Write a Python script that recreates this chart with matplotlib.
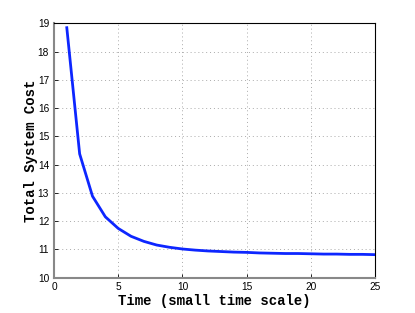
import matplotlib
matplotlib.use("Agg")
import matplotlib.pyplot as plt

time = list(range(1, 26))
cost = [18.85, 14.38, 12.88, 12.15, 11.74, 11.46, 11.28, 11.15, 11.07, 11.01,
        10.97, 10.94, 10.92, 10.90, 10.89, 10.87, 10.86, 10.85, 10.85, 10.84,
        10.83, 10.83, 10.82, 10.82, 10.81]
xticks = [0, 5, 10, 15, 20, 25]
yticks = list(range(10, 20))

fig = plt.figure(figsize=(4.15, 3.13), dpi=100)
ax = fig.add_axes([0.130, 0.1134, 0.774, 0.8116])
ax.plot(time, cost, color=(0.05, 0.15, 1.0), lw=2)
ax.set_xlim(0, 25)
ax.set_ylim(10, 19)
ax.set_xticks(xticks)
ax.set_yticks(yticks)
ax.tick_params(direction='in', labelsize=7.3, length=3, width=0.6, top=False, right=False)
for t in ax.get_xticklabels() + ax.get_yticklabels():
    t.set_family('Liberation Sans')
ax.grid(True, linestyle=(0, (1, 3)), color='#aaaaaa', lw=0.7)
for s in ['left', 'bottom']:
    ax.spines[s].set_color('#888888')
    ax.spines[s].set_linewidth(1.5)
for s in ['top', 'right']:
    ax.spines[s].set_color('black')
    ax.spines[s].set_linewidth(0.8)
ax.set_xlabel('Time (small time scale)', family='Liberation Mono', weight='bold', fontsize=10.1, labelpad=1)
ax.set_ylabel('Total System Cost', family='Liberation Mono', weight='bold', fontsize=10.1, labelpad=0)
fig.savefig('out.png', dpi=100)
